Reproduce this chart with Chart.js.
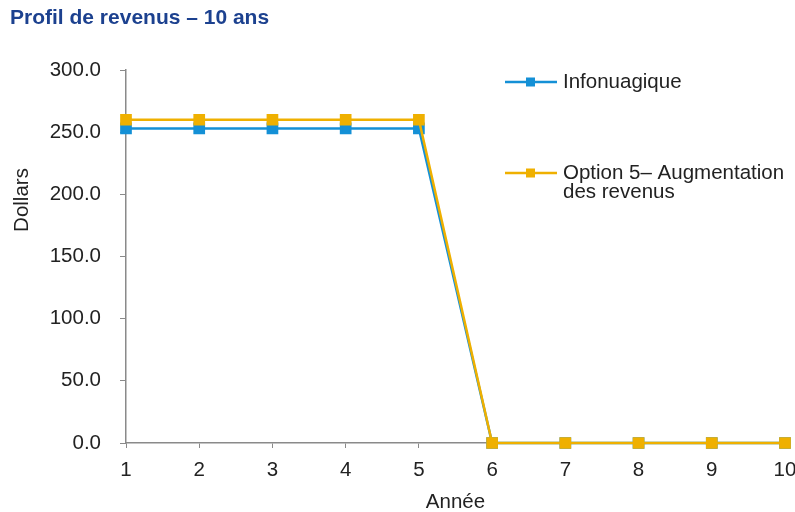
<!DOCTYPE html>
<html>
<head>
<meta charset="utf-8">
<script src="https://cdn.jsdelivr.net/npm/chart.js@4/dist/chart.umd.min.js"></script>
<style>
  html, body { margin: 0; padding: 0; background: #fff; }
  #wrap { width: 795px; height: 512px; }
</style>
</head>
<body>
<div id="wrap"><canvas id="line-chart" width="795" height="512"></canvas></div>
<script>
// données
const annees = ["1","2","3","4","5","6","7","8","9","10"];
const infonuagique = [253, 253, 253, 253, 253, 0, 0, 0, 0, 0];
const option5 = [260, 260, 260, 260, 260, 0, 0, 0, 0, 0];
const yTicks = [0, 50, 100, 150, 200, 250, 300];

const BLEU = "#1490d6";
const OR = "#efb000";
const FONT = "'Liberation Sans', Arial, sans-serif";
const TAILLE = 20.5;

// titre, titre de l'axe Y et légende dessinés à la main
const textes = {
    id: 'textes',
    afterDraw(chart) {
        const ctx = chart.ctx;
        ctx.save();
        ctx.textBaseline = 'middle';
        ctx.textAlign = 'left';
        ctx.fillStyle = "#1c418f";
        ctx.font = "bold 21px " + FONT;
        ctx.fillText("Profil de revenus – 10 ans", 10, 18);

        ctx.fillStyle = "#222";
        ctx.font = TAILLE + "px " + FONT;
        ctx.translate(22, 200);
        ctx.rotate(-Math.PI / 2);
        ctx.textAlign = 'center';
        ctx.fillText("Dollars", 0, 0);
        ctx.restore();

        const items = [
            {color: BLEU, y: 82, lines: ["Infonuagique"]},
            {color: OR, y: 173, lines: ["Option 5– Augmentation", "des revenus"]}
        ];
        ctx.save();
        ctx.font = TAILLE + "px " + FONT;
        ctx.textBaseline = 'middle';
        items.forEach(it => {
            ctx.strokeStyle = it.color;
            ctx.lineWidth = 2.5;
            ctx.beginPath();
            ctx.moveTo(505, it.y);
            ctx.lineTo(557, it.y);
            ctx.stroke();
            ctx.fillStyle = it.color;
            ctx.fillRect(526, it.y - 4.5, 9, 9);
            ctx.fillStyle = "#222";
            it.lines.forEach((t, i) => ctx.fillText(t, 563, it.y + i * 19));
        });
        ctx.restore();
    }
};

new Chart(document.getElementById("line-chart"), {
    type: 'line',
    data: {
        labels: annees,
        datasets: [{
            label: "Infonuagique",
            data: infonuagique,
            borderColor: BLEU,
            backgroundColor: BLEU,
            borderWidth: 2.5,
            pointStyle: 'rect',
            pointRadius: 6.5,
            pointHoverRadius: 6.5,
            tension: 0,
            clip: 10,
            order: 2
        }, {
            label: "Option 5– Augmentation des revenus",
            data: option5,
            borderColor: OR,
            backgroundColor: OR,
            borderWidth: 2.5,
            pointStyle: 'rect',
            pointRadius: 6.5,
            pointHoverRadius: 6.5,
            tension: 0,
            clip: 10,
            order: 1
        }]
    },
    options: {
        responsive: false,
        animation: false,
        layout: { padding: { top: 70, right: 10, left: 0, bottom: 0 } },
        plugins: {
            legend: { display: false },
            title: { display: false },
            tooltip: { enabled: false }
        },
        scales: {
            x: {
                offset: false,
                grid: { drawOnChartArea: false, drawTicks: true, tickLength: 5, color: "#8a8a8a" },
                border: { display: true, color: "#8a8a8a", width: 1.5 },
                ticks: { color: "#222", font: { family: FONT, size: TAILLE }, padding: 10, maxRotation: 0 },
                title: { display: true, text: "Année", color: "#222", font: { family: FONT, size: TAILLE }, padding: { top: 4, bottom: -3 } },
                afterFit: s => { s.height = 69; s.paddingLeft = 0; s.paddingRight = 0; }
            },
            y: {
                min: 0,
                max: 300,
                afterBuildTicks: s => { s.ticks = yTicks.map(v => ({ value: v })); },
                grid: { drawOnChartArea: false, drawTicks: true, tickLength: 6, color: "#8a8a8a" },
                border: { display: true, color: "#8a8a8a", width: 1.5 },
                ticks: {
                    color: "#222",
                    font: { family: FONT, size: TAILLE },
                    padding: 19,
                    callback: v => Number(v).toFixed(1)
                },
                afterFit: s => { s.width = 126; s.paddingTop = 0; s.paddingBottom = 0; }
            }
        }
    },
    plugins: [textes]
});
</script>
</body>
</html>
